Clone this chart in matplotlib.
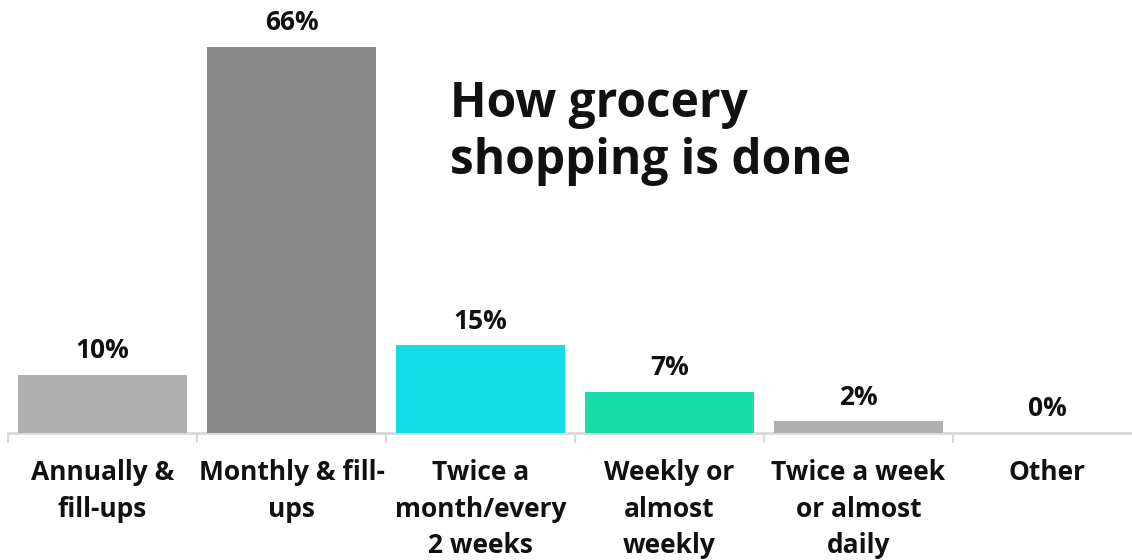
import matplotlib
matplotlib.use("Agg")
import matplotlib.pyplot as plt

categories = [
    "Annually &\nfill-ups",
    "Monthly & fill-\nups",
    "Twice a\nmonth/every\n2 weeks",
    "Weekly or\nalmost\nweekly",
    "Twice a week\nor almost\ndaily",
    "Other",
]
values = [10, 66, 15, 7, 2, 0]
bar_colors = ["#b0b0b0", "#898989", "#13dde6", "#19dca8", "#b0b0b0", "#b0b0b0"]
title = "How grocery\nshopping is done"

plt.rcParams["font.family"] = ["Open Sans", "DejaVu Sans"]
plt.rcParams["font.weight"] = "bold"

W, H = 1132, 560
fig = plt.figure(figsize=(W / 100, H / 100), dpi=100)

left_px, base_px, step_px = 8, 433, 189
ymax = 70
px_per_unit = 386 / 66
top_px = base_px - ymax * px_per_unit
ax = fig.add_axes([left_px / W, (H - base_px) / H, 6 * step_px / W, (base_px - top_px) / H])

x = list(range(len(values)))
ax.bar(x, values, width=0.89, color=bar_colors, edgecolor="none", zorder=2)

for xi, v in zip(x, values):
    ax.annotate(f"{v}%", (xi, v), xytext=(0, 12), textcoords="offset points",
                ha="center", va="baseline", fontsize=19, fontweight="bold", color="#111111")

ax.set_xlim(-0.5, 5.5)
ax.set_ylim(0, ymax)
ax.set_yticks([])
for s in ["top", "right", "left"]:
    ax.spines[s].set_visible(False)
ax.spines["bottom"].set_color("#d9d9d9")
ax.spines["bottom"].set_linewidth(2)
ax.spines["bottom"].set_zorder(1)

ax.set_xticks(x)
ax.set_xticklabels(categories, fontsize=19, fontweight="bold", color="#111111", linespacing=1.45, va="top")
ax.tick_params(axis="x", which="major", length=0, pad=19)
ax.set_xticks([i - 0.5 for i in range(len(values) + 1)], minor=True)
ax.tick_params(axis="x", which="minor", length=7, width=1.5, color="#d9d9d9")

fig.text(450 / W, (H - 80) / H, title, ha="left", va="top", fontsize=34.5,
         fontweight="bold", color="#111111", linespacing=1.21)

fig.savefig("out.png", dpi=100, facecolor="white")
